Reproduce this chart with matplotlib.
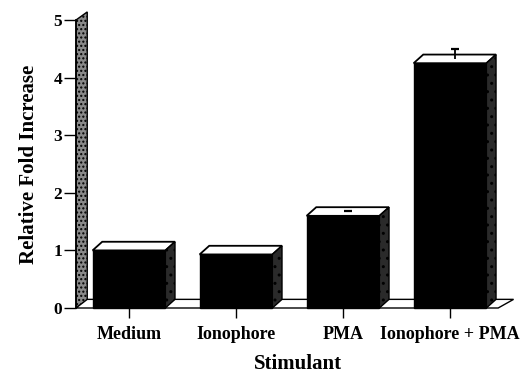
import matplotlib
matplotlib.use("Agg")
import matplotlib.pyplot as plt
from matplotlib.patches import Polygon

categories = ["Medium", "Ionophore", "PMA", "Ionophore + PMA"]
values = [1.0, 0.93, 1.6, 4.25]
errors = [0.0, 0.0, 0.01, 0.17]
yticks = [0, 1, 2, 3, 4, 5]

plt.rcParams['font.family'] = ['Liberation Serif', 'DejaVu Serif']
plt.rcParams['font.weight'] = 'bold'

fig = plt.figure(figsize=(5.23, 3.75), dpi=100)
ax = fig.add_axes([76/523, 67/375, 444/523, 288/375])
ax.set_xlim(-0.495, 3.654)
ax.set_ylim(0, 5)

width = 0.68
ddx = 0.09   # depth offset in x units
ddy = 0.15   # depth offset in y units
wall_w = 0.105

# back/left wall strip
wall = Polygon([(-0.495, 0), (-0.495, 5.0), (-0.495 + wall_w, 5.14), (-0.495 + wall_w, 0.14)],
               closed=True, facecolor='#8a8a8a', edgecolor='black', lw=1.0,
               hatch='....', clip_on=False, zorder=1)
ax.add_patch(wall)

# floor
xs = list(range(len(categories)))
floor_right = 3.45
floor = Polygon([(-0.495, 0), (floor_right, 0), (floor_right + ddx*1.6, ddy),
                 (-0.495 + wall_w, ddy)],
                closed=True, facecolor='white', edgecolor='black', lw=1.0,
                clip_on=False, zorder=2)
ax.add_patch(floor)

# bars: front faces
ax.bar(xs, values, width=width, color='black', edgecolor='black',
       lw=1.0, zorder=4, clip_on=False)
for x, v in zip(xs, values):
    l, r = x - width/2, x + width/2
    top = Polygon([(l, v), (r, v), (r + ddx, v + ddy), (l + ddx, v + ddy)],
                  closed=True, facecolor='white', edgecolor='black', lw=1.3,
                  clip_on=False, zorder=5)
    side = Polygon([(r, 0), (r + ddx, ddy), (r + ddx, v + ddy), (r, v)],
                   closed=True, facecolor='#2a2a2a', edgecolor='black', lw=1.0,
                   hatch='..', clip_on=False, zorder=5)
    ax.add_patch(top)
    ax.add_patch(side)

# error bars: upward stem with a cap on top
for x, v, e in zip(xs, values, errors):
    if e <= 0:
        continue
    cx = x + ddx / 2
    base = v + ddy / 2
    ax.vlines(cx, base, base + e, colors='black', lw=1.3, zorder=6, clip_on=False)
    ax.hlines(base + e, cx - 0.04, cx + 0.04, colors='black', lw=1.6, zorder=6,
              clip_on=False)

for s in ['top', 'right', 'bottom']:
    ax.spines[s].set_visible(False)
ax.spines['left'].set_linewidth(1.2)

ax.set_yticks(yticks)
ax.set_yticklabels([str(t) for t in yticks], fontsize=12.5, fontweight='bold')
ax.tick_params(axis='y', length=9, width=1.0, pad=1)
ax.set_xticks(xs)
ax.set_xticklabels(categories, fontsize=13, fontweight='bold')
ax.tick_params(axis='x', length=7, width=1.0, pad=6)

ax.set_ylabel("Relative Fold Increase", fontsize=15, fontweight='bold', labelpad=10)
ax.set_xlabel("Stimulant", fontsize=15, fontweight='bold', labelpad=8)

fig.savefig("out.png", dpi=100)
